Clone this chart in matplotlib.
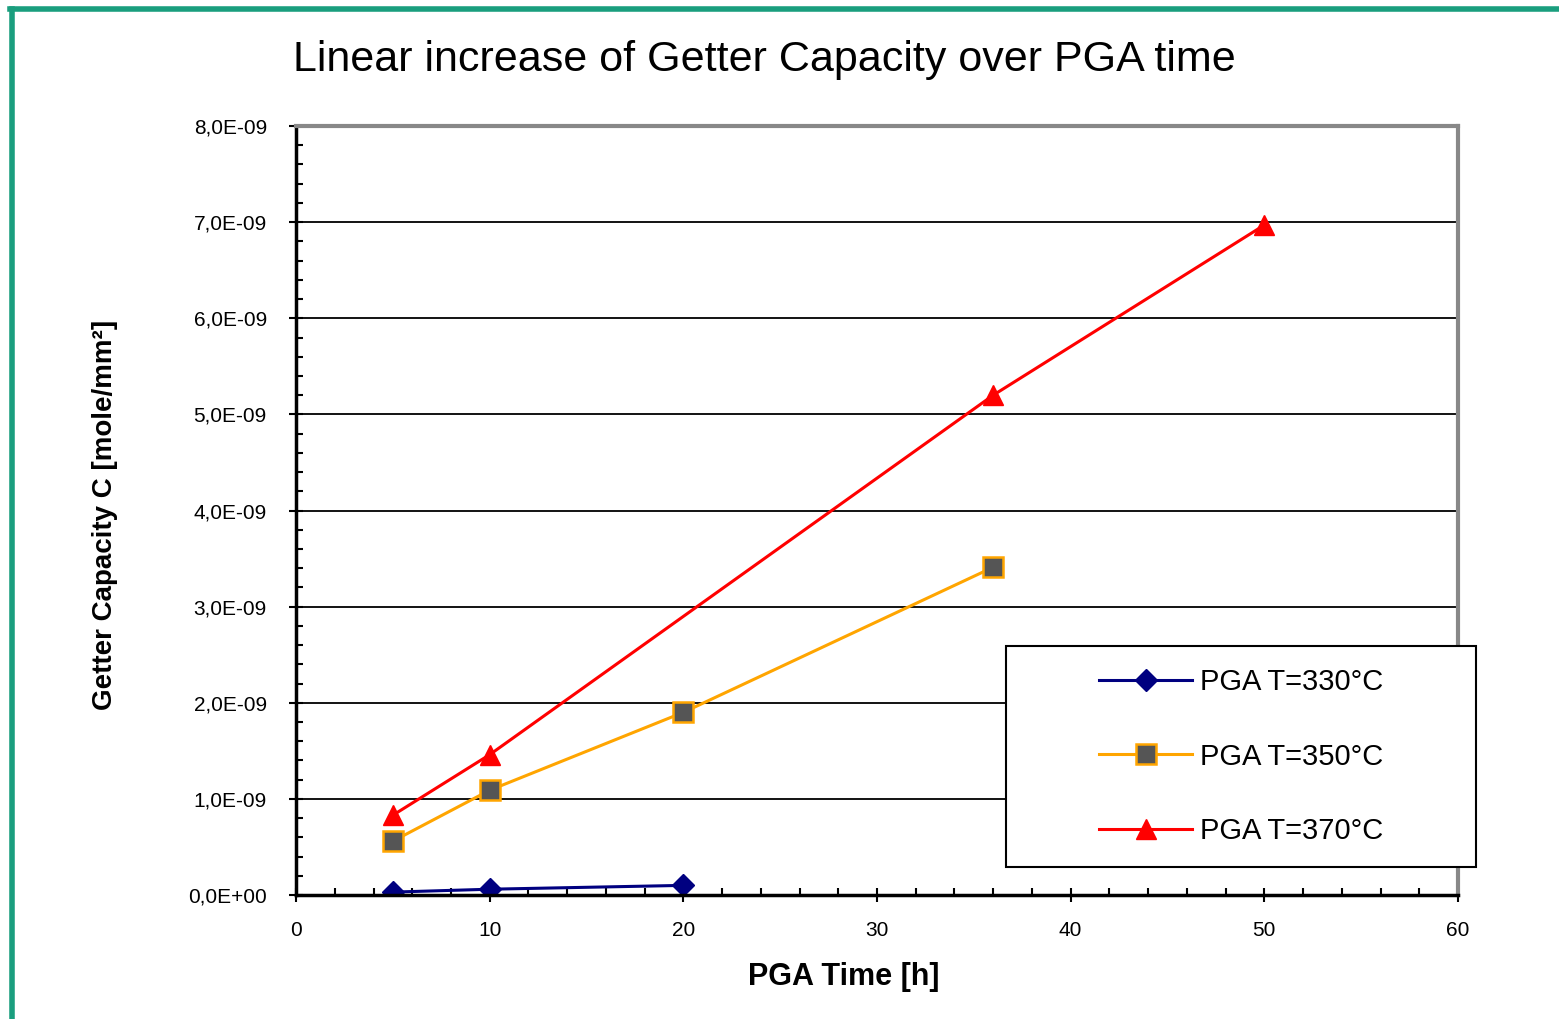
import matplotlib.pyplot as plt
from matplotlib.lines import Line2D
from matplotlib.patches import Rectangle
from matplotlib.ticker import MultipleLocator, FuncFormatter

# data
t_330 = [5, 10, 20]
c_330 = [0.03e-9, 0.06e-9, 0.10e-9]
t_350 = [5, 10, 20, 36]
c_350 = [0.56e-9, 1.09e-9, 1.90e-9, 3.41e-9]
t_370 = [5, 10, 36, 50]
c_370 = [0.83e-9, 1.46e-9, 5.20e-9, 6.97e-9]
labels = ['PGA T=330°C', 'PGA T=350°C', 'PGA T=370°C']

plt.rcParams['font.family'] = ['Liberation Sans', 'DejaVu Sans']

fig = plt.figure(figsize=(15.59, 10.19), dpi=100)
ax = fig.add_axes([0.1899, 0.1217, 0.7453, 0.7546])

ax.plot(t_330, c_330, color='#000080', lw=2.2, marker='D', ms=11, label=labels[0])
ax.plot(t_350, c_350, color='#ffa500', lw=2.2, marker='s', ms=14,
        markerfacecolor='#555555', markeredgecolor='#ffa500', markeredgewidth=1.8, label=labels[1])
ax.plot(t_370, c_370, color='#ff0000', lw=2.2, marker='^', ms=14, label=labels[2])

ax.set_xlim(0, 60)
ax.set_ylim(0, 8e-9)
ax.xaxis.set_major_locator(MultipleLocator(10))
ax.xaxis.set_minor_locator(MultipleLocator(2))
ax.yaxis.set_major_locator(MultipleLocator(1e-9))
ax.yaxis.set_minor_locator(MultipleLocator(0.2e-9))
ax.yaxis.set_major_formatter(FuncFormatter(lambda v, p: ('%.1E' % v).replace('.', ',')))
ax.grid(axis='y', which='major', color='black', lw=1.3)
ax.set_axisbelow(True)

ax.tick_params(which='major', direction='inout', length=10, width=1.5, labelsize=15)
ax.tick_params(which='minor', direction='in', length=5, width=1.5)
ax.tick_params(axis='y', pad=16)
ax.tick_params(axis='x', pad=14)

for s in ['left', 'bottom']:
    ax.spines[s].set_color('black')
    ax.spines[s].set_linewidth(2.5)
for s in ['top', 'right']:
    ax.spines[s].set_color('#888888')
    ax.spines[s].set_linewidth(3)

ax.set_xlabel('PGA Time [h]', fontsize=22, fontweight='bold')
ax.xaxis.set_label_coords(0.471, -0.087)
ax.set_ylabel('Getter Capacity C [mole/mm²]', fontsize=20, fontweight='bold')
ax.yaxis.set_label_coords(-0.153, 0.494)

fig.text(0.49, 0.941, 'Linear increase of Getter Capacity over PGA time',
         ha='center', va='center', fontsize=31)

# legend box, drawn separately so it can be larger than its contents
fig.add_artist(Rectangle((0.645, 0.149), 0.302, 0.217, transform=fig.transFigure,
                         facecolor='white', edgecolor='black', lw=1.5, zorder=5))
leg = fig.legend(loc='center', bbox_to_anchor=(0.645, 0.149, 0.302, 0.217),
                 fontsize=21, frameon=False, handlelength=3.2, handletextpad=0.25,
                 labelspacing=1.6)
leg.set_zorder(6)

# green slide frame
fig.add_artist(Line2D([0.0067, 1.0], [0.9915, 0.9915], transform=fig.transFigure,
                      color='#1a9e7e', lw=4))
fig.add_artist(Line2D([0.0077, 0.0077], [0.0, 0.9915], transform=fig.transFigure,
                      color='#1a9e7e', lw=4))

fig.savefig('out.png', dpi=100)
